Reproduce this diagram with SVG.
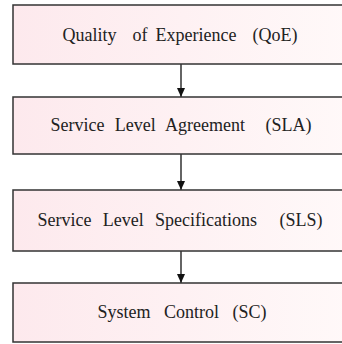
<svg xmlns="http://www.w3.org/2000/svg" width="342" height="344" viewBox="0 0 342 344">
<defs>
<linearGradient id="g" x1="0" y1="0" x2="1" y2="0">
<stop offset="0" stop-color="#fde9ed"/>
<stop offset="1" stop-color="#fff9f9"/>
</linearGradient>
<marker id="ah" markerWidth="8" markerHeight="9" refX="4" refY="9" orient="0" markerUnits="userSpaceOnUse">
<path d="M0,0 L8,0 L4,9 z" fill="#111"/>
</marker>
</defs>
<style>
.box{fill:url(#g);stroke:#333;stroke-width:1.5}
.lbl{font-family:"Liberation Serif","Times New Roman",serif;font-size:18px;fill:#222;text-anchor:middle;white-space:pre}
.con{stroke:#111;stroke-width:1.3;fill:none;marker-end:url(#ah)}
</style>
<rect width="342" height="344" fill="#fff"/>
<g id="connectors">
<line class="con" x1="181" y1="64" x2="181" y2="97"/>
<line class="con" x1="181" y1="154" x2="181" y2="190"/>
<line class="con" x1="181" y1="251" x2="181" y2="283"/>
</g>
<g id="qoe">
<rect class="box" x="13" y="5" width="340" height="59"/>
<text class="lbl" x="180" y="41" xml:space="preserve" style="word-spacing:3.5px">Quality  of Experience  (QoE)</text>
</g>
<g id="sla">
<rect class="box" x="13" y="97" width="340" height="57"/>
<text class="lbl" x="181" y="131" xml:space="preserve" style="word-spacing:5.75px">Service Level Agreement  (SLA)</text>
</g>
<g id="sls">
<rect class="box" x="13" y="190" width="340" height="61"/>
<text class="lbl" x="180" y="226" xml:space="preserve" style="word-spacing:6.75px">Service Level Specifications  (SLS)</text>
</g>
<g id="sc">
<rect class="box" x="13" y="283" width="340" height="59"/>
<text class="lbl" x="182" y="318" xml:space="preserve" style="word-spacing:9px">System Control (SC)</text>
</g>
</svg>
